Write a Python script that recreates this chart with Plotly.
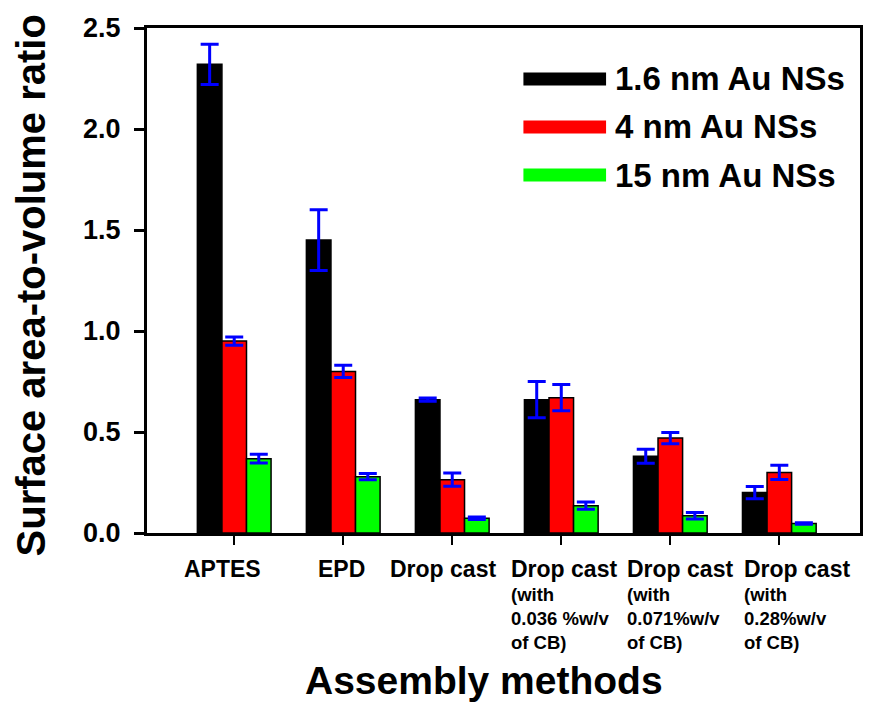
import plotly.graph_objects as go

# Assembly methods (x categories) and their tick-label text
methods = ["APTES", "EPD", "Drop cast", "Drop cast 0.036", "Drop cast 0.071", "Drop cast 0.28"]
label_heads = ["APTES", "EPD", "Drop cast", "Drop cast", "Drop cast", "Drop cast"]
label_notes = ["", "", "",
               "(with<br>0.036 %w/v<br>of CB)",
               "(with<br>0.071%w/v<br>of CB)",
               "(with<br>0.28%w/v<br>of CB)"]

# Surface area-to-volume ratio with error bars, per Au NS size
series_names = ["1.6 nm Au NSs", "4 nm Au NSs", "15 nm Au NSs"]
ratio_1p6 = [2.32, 1.45, 0.66, 0.66, 0.38, 0.20]
err_1p6 = [0.10, 0.15, 0.008, 0.09, 0.035, 0.03]
ratio_4 = [0.95, 0.80, 0.264, 0.67, 0.47, 0.30]
err_4 = [0.02, 0.03, 0.033, 0.065, 0.028, 0.035]
ratio_15 = [0.368, 0.279, 0.073, 0.135, 0.085, 0.047]
err_15 = [0.022, 0.015, 0.006, 0.018, 0.016, 0.004]

y_ticks = [0.0, 0.5, 1.0, 1.5, 2.0, 2.5]

colors = ["#000000", "#ff0000", "#00ff00"]
FONT = "Liberation Sans, Arial, sans-serif"

W, H = 870, 702
L, R, T, B = 147, 7, 28, 169
PW, PH = W - L - R, H - T - B


def px_x(px):
    return (px - L) / PW


def px_y(py):
    return (H - B - py) / PH


fig = go.Figure()
for name, vals, errs, col in zip(series_names,
                                 [ratio_1p6, ratio_4, ratio_15],
                                 [err_1p6, err_4, err_15], colors):
    fig.add_trace(go.Bar(
        x=list(range(len(methods))), y=vals, name=name,
        marker=dict(color=col, line=dict(color="#000000", width=1.5)),
        error_y=dict(type="data", array=errs, color="#0000ff",
                     thickness=3, width=9),
        showlegend=False,
    ))

fig.update_layout(
    width=W, height=H,
    margin=dict(l=L, r=R, t=T, b=B),
    paper_bgcolor="white", plot_bgcolor="white",
    barmode="group", bargap=0.324, bargroupgap=0,
    font=dict(family=FONT, color="black"),
)

fig.update_xaxes(
    range=[-0.8, 5.74], tickvals=list(range(len(methods))),
    showticklabels=False, ticks="outside", ticklen=9, tickwidth=1.5,
    tickcolor="black", showline=True, linewidth=3, linecolor="black",
    mirror=True, showgrid=False, zeroline=False,
)
fig.update_yaxes(
    range=[0, 2.5], tickvals=y_ticks, tickformat=".1f",
    ticks="outside", ticklen=10, tickwidth=3, tickcolor="black",
    ticklabelstandoff=8,
    tickfont=dict(family=FONT, size=27, color="black", weight="bold"),
    showline=True, linewidth=3, linecolor="black", mirror=True,
    showgrid=False, zeroline=False,
)

# category labels below the axis, left aligned like the original layout
label_shift = [-0.478, -0.249, -0.594, -0.481, -0.42, -0.339]
annotations = []
for i, (head, note) in enumerate(zip(label_heads, label_notes)):
    text = "<span style='font-size:23px'>" + head + "</span>"
    if note:
        text += "<br>" + note
    annotations.append(dict(
        x=i + label_shift[i], xref="x", xanchor="left",
        y=px_y(554), yref="paper", yanchor="top",
        text=text, showarrow=False, align="left",
        font=dict(family=FONT, size=18.5, color="black", weight="bold"),
    ))

# axis titles
annotations.append(dict(
    x=px_x(485), y=px_y(680), xref="paper", yref="paper",
    text="Assembly methods", showarrow=False,
    xanchor="center", yanchor="middle",
    font=dict(family=FONT, size=39, color="black", weight="bold"),
))
annotations.append(dict(
    x=px_x(31), y=px_y(285), xref="paper", yref="paper",
    text="Surface area-to-volume ratio", textangle=-90, showarrow=False,
    xanchor="center", yanchor="middle",
    font=dict(family=FONT, size=40, color="black", weight="bold"),
))

# legend: thick colour swatches with names
shapes = []
legend_rows = [79, 127, 175]
for name, col, yc in zip(series_names, colors, legend_rows):
    shapes.append(dict(
        type="rect", xref="paper", yref="paper",
        x0=px_x(525), x1=px_x(608), y0=px_y(yc + 6.5), y1=px_y(yc - 6.5),
        fillcolor=col, line=dict(width=0),
    ))
    annotations.append(dict(
        x=px_x(615), y=px_y(yc), xref="paper", yref="paper",
        text=name, showarrow=False, xanchor="left", yanchor="middle",
        font=dict(family=FONT, size=33, color="black", weight="bold"),
    ))

fig.update_layout(annotations=annotations, shapes=shapes)

fig.write_html("out.html")
